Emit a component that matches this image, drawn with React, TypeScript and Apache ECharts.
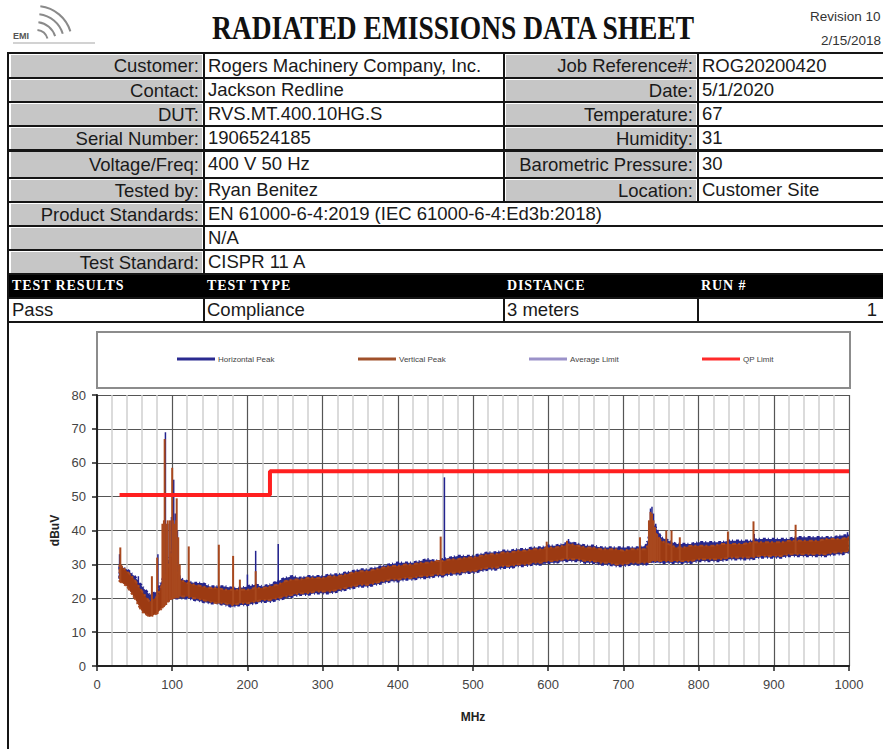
import React, { useEffect, useRef } from "react";
import * as echarts from "echarts";

// ---------- chart data ----------
const BAND_FREQ = [
  30, 40, 50, 60, 70, 80, 90, 100, 110, 120, 130, 140, 150, 160, 170, 180, 190, 200, 210, 220,
  230, 240, 250, 260, 270, 280, 290, 300, 310, 320, 330, 340, 350, 360, 370, 380, 390, 400, 410, 420,
  430, 440, 450, 460, 470, 480, 490, 500, 510, 520, 530, 540, 550, 560, 570, 580, 590, 600, 610, 620,
  630, 640, 650, 660, 670, 680, 690, 700, 710, 720, 730, 740, 750, 760, 770, 780, 790, 800, 810, 820,
  830, 840, 850, 860, 870, 880, 890, 900, 910, 920, 930, 940, 950, 960, 970, 980, 990, 1000,
];
// Vertical peak (brown) band: lower / upper envelope, dBuV
const V_LO = [
  25, 23.5, 20, 16, 14.5, 15.5, 18, 20, 20.5, 20.5, 20, 19.5, 19, 18.5, 18.5, 18, 18.5, 18.5, 19, 19.5,
  19.5, 20, 20.5, 21, 21.5, 21.5, 22, 22, 22, 22.5, 23, 23.5, 24, 24, 24.5, 25, 25.5, 25.5, 26, 26,
  26.5, 26.5, 27, 27, 27.5, 27.5, 28, 28, 28.5, 29, 29, 29.5, 29.5, 30, 30, 30.5, 30.5, 31, 31, 31.5,
  31.5, 31.5, 31, 31, 30.5, 30.5, 30, 30, 30.5, 30.5, 30.5, 31, 31, 31, 31, 31, 31, 31.5, 31.5, 31.5,
  31.5, 32, 32, 32, 32, 32.5, 32.5, 32.5, 32.5, 33, 33, 33, 33, 33, 33, 33.5, 33.5, 34,
];
const V_HI = [
  30, 28, 25.5, 22, 19, 20.5, 26, 34, 25.5, 24.5, 24, 23.5, 23, 23, 22.5, 22.5, 22.5, 22.5, 23, 23,
  23.5, 24, 25, 25.5, 25.5, 26, 26, 26, 26.5, 26.5, 27, 27.5, 28, 28, 28.5, 29, 29.5, 29.5, 30, 30,
  30.5, 30.5, 31, 31, 31.5, 31.5, 32, 32, 32.5, 33, 33, 33.5, 33.5, 34, 34, 34.5, 34.5, 35, 35, 35.5,
  36, 35.5, 35, 35, 34.5, 34.5, 34.5, 34, 34.5, 34.5, 34.5, 40, 37, 36, 35, 35, 35.5, 35.5, 35.5, 35.5,
  36, 36, 36, 36, 36.5, 36.5, 36.5, 36.5, 36.5, 37, 37, 37, 37, 37, 37.5, 37.5, 37.5, 38,
];
// Horizontal peak (blue) band: lower / upper envelope, dBuV
const H_LO = [
  26, 24, 21, 18.5, 17.5, 18.5, 19, 20, 20, 20, 19.5, 19, 18.5, 18.5, 18, 17.5, 18, 18, 18.5, 19,
  19, 19.5, 20, 20.5, 21, 21, 21.5, 21.5, 21.5, 22, 22.5, 23, 23.5, 23.5, 24, 24.5, 25, 25, 25.5, 25.5,
  26, 26, 26.5, 26.5, 27, 27, 27.5, 27.5, 28, 28.5, 28.5, 29, 29, 29.5, 29.5, 30, 30, 30.5, 30.5, 31,
  31, 31, 30.5, 30.5, 30, 30, 29.5, 29.5, 30, 30, 30, 31, 30.5, 30.5, 30.5, 30.5, 30.5, 31, 31, 31,
  31, 31.5, 31.5, 31.5, 31.5, 32, 32, 32, 32, 32.5, 32.5, 32.5, 32.5, 32.5, 32.5, 33, 33, 33.5,
];
const H_HI = [
  29.5, 28.5, 26.5, 23.5, 21, 22, 27, 35, 26, 25, 24.5, 24.5, 23.5, 23.5, 23.5, 23, 23, 23.5, 24, 23.5,
  24, 25, 26, 26.5, 26, 26.5, 26.5, 26.5, 27, 27, 27.5, 28, 28.5, 28.5, 29, 29.5, 30, 30.5, 30.5, 30.5,
  31, 31.5, 31, 31.5, 32, 32.5, 32.5, 32.5, 33, 33.5, 33.5, 34, 34, 34.5, 34.5, 35, 35, 35.5, 35.5, 36,
  36.5, 36, 35.5, 35.5, 35, 35, 35, 35, 35, 35, 35.5, 42, 38, 37, 36, 36, 36, 36.5, 36.5, 36.5,
  36.5, 37, 37, 37, 37, 37.5, 37.5, 37.5, 37.5, 37.5, 38, 38, 38, 38, 38, 38, 38.5, 38.5,
];
// narrow emissions: [MHz, base dBuV, peak dBuV]
const H_SPIKES = [
  [30, 26, 33], [55, 21, 26.5], [81, 19, 33], [88, 19, 40], [91, 19, 69], [93, 20, 41],
  [96, 20, 42], [99, 20, 44], [102, 20, 55], [104, 20, 45], [107, 20, 40], [200, 18, 27],
  [211, 18.5, 34], [241, 19.5, 36], [462, 26.5, 55.7], [627, 31, 37.5], [633, 31, 36.5],
  [734, 30.5, 42], [736, 30.5, 46.5], [738, 30.5, 47], [740, 30.5, 45], [743, 30.5, 42],
  [746, 30.5, 40], [749, 30.5, 38.5], [874, 31.5, 39], [998, 33.5, 39.5],
];
const V_SPIKES = [
  [31, 25, 35], [73, 15, 26.5], [80, 15.5, 32], [87, 17, 42], [89, 17.5, 43], [90, 18, 67],
  [92, 18, 42], [94, 19, 43], [97, 19.5, 43], [100, 20, 58.5], [101, 20, 43], [103, 20, 42],
  [105, 20, 43], [106, 20, 49.5], [108, 20, 38], [110, 20.5, 30], [122, 20.5, 35.3],
  [162, 18.5, 35.8], [181, 18, 32.5], [190, 18.5, 25.5], [211, 19, 28], [457, 27, 38.2],
  [598, 31, 36.7], [625, 31.5, 37], [722, 30.5, 38], [734, 31, 43], [736, 31, 45.5],
  [738, 31, 45], [740, 31, 43], [742, 31, 41], [745, 31, 39], [748, 31, 37.5], [757, 31, 40],
  [764, 31, 40], [775, 31, 38], [839, 32, 39.7], [873, 32, 42.7], [929, 33, 41.7],
];
const QP_LIMIT = [[30, 50.5], [230, 50.5], [230, 57.5], [1000, 57.5]];
const AVG_LIMIT: number[][] = [];
const SERIES_NAMES = ["Horizontal Peak", "Vertical Peak", "Average Limit", "QP Limit"];

// ---------- sheet text ----------
const INFO_ROWS = [
  ["Customer:", "Rogers Machinery Company, Inc.", "Job Reference#:", "ROG20200420"],
  ["Contact:", "Jackson Redline", "Date:", "5/1/2020"],
  ["DUT:", "RVS.MT.400.10HG.S", "Temperature:", "67"],
  ["Serial Number:", "1906524185", "Humidity:", "31"],
  ["Voltage/Freq:", "400 V 50 Hz", "Barometric Pressure:", "30"],
  ["Tested by:", "Ryan Benitez", "Location:", "Customer Site"],
];
const WIDE_ROWS = [
  ["Product Standards:", "EN 61000-6-4:2019 (IEC 61000-6-4:Ed3b:2018)"],
  ["", "N/A"],
  ["Test Standard:", "CISPR 11 A"],
];
const RESULT_HEAD = ["TEST RESULTS", "TEST TYPE", "DISTANCE", "RUN #"];
const RESULT_ROW = ["Pass", "Compliance", "3 meters", "1"];

const ROW_Y = [52, 77, 101, 125, 149, 177, 201, 225, 249, 273, 297, 321];
const COL_X = [8, 203, 503, 697, 890];

const BLUE = "#23238f";
const BROWN = "#9c3a12";
const SANS = "'Liberation Sans', Arial, sans-serif";
const SERIF = "'Liberation Serif', 'Times New Roman', serif";

function bandSeries(name: string, lo: number[], hi: number[], fill: string, stroke: string, dash: number[] | null, width: number) {
  return {
    type: "custom",
    name,
    silent: true,
    clip: true,
    data: [[BAND_FREQ[0], lo[0]]],
    encode: { x: 0, y: 1 },
    renderItem: (_p: any, api: any) => {
      const pts: number[][] = [];
      for (let i = 0; i < BAND_FREQ.length; i++) pts.push(api.coord([BAND_FREQ[i], hi[i]]));
      for (let i = BAND_FREQ.length - 1; i >= 0; i--) pts.push(api.coord([BAND_FREQ[i], lo[i]]));
      return {
        type: "polygon",
        shape: { points: pts },
        style: { fill, stroke, lineWidth: width, lineDash: dash || undefined },
      };
    },
  };
}

function spikeSeries(name: string, spikes: number[][], color: string, width: number) {
  return {
    type: "custom",
    name,
    silent: true,
    data: spikes,
    encode: { x: 0, y: [1, 2] },
    renderItem: (_p: any, api: any) => {
      const a = api.coord([api.value(0), api.value(1)]);
      const b = api.coord([api.value(0), api.value(2)]);
      return {
        type: "line",
        shape: { x1: a[0], y1: a[1], x2: b[0], y2: b[1] },
        style: { stroke: color, lineWidth: width },
      };
    },
  };
}

function Chart() {
  const ref = useRef<HTMLDivElement>(null);
  useEffect(() => {
    if (!ref.current) return;
    const chart = echarts.init(ref.current, undefined, { renderer: "svg" });
    const legendColors = ["#2a2a90", "#a0502a", "#9b92c9", "#ff2a2a"];
    const legendX = [177, 358, 529, 702];
    chart.setOption({
      animation: false,
      backgroundColor: "transparent",
      textStyle: { fontFamily: SANS },
      graphic: [
        {
          type: "rect",
          z: 0,
          shape: { x: 97, y: 332, width: 753, height: 56 },
          style: { fill: "#fff", stroke: "#8c8c8c", lineWidth: 2 },
        },
      ],
      legend: SERIES_NAMES.map((n, i) => ({
        data: [{ name: n, icon: "rect", itemStyle: { color: legendColors[i] } }],
        left: legendX[i],
        top: 355,
        padding: 0,
        itemWidth: 38,
        itemHeight: 3,
        selectedMode: false,
        z: 5,
        textStyle: { fontSize: 8, color: "#444", fontFamily: SANS, padding: [0, 0, 0, -2] },
      })),
      grid: { left: 97, right: 34, top: 395, bottom: 83, containLabel: false },
      xAxis: {
        type: "value",
        min: 0,
        max: 1000,
        interval: 100,
        name: "MHz",
        nameLocation: "middle",
        nameGap: 45,
        nameTextStyle: { fontWeight: "bold", fontSize: 12, color: "#222" },
        axisLine: { show: true, lineStyle: { color: "#222", width: 2 } },
        axisTick: { show: true, length: 5, lineStyle: { color: "#222", width: 1.5 } },
        axisLabel: { fontSize: 13, color: "#444", margin: 12, formatter: (v: number) => String(v) },
        splitLine: { show: true, lineStyle: { color: "#555", width: 1.2 } },
        minorTick: { show: false, splitNumber: 5 },
        minorSplitLine: { show: true, lineStyle: { color: "#cfcfcf", width: 1.5 } },
      },
      yAxis: {
        type: "value",
        min: 0,
        max: 80,
        interval: 10,
        name: "dBuV",
        nameLocation: "middle",
        nameRotate: 90,
        nameGap: 36,
        nameTextStyle: { fontWeight: "bold", fontSize: 12, color: "#222" },
        axisLine: { show: true, lineStyle: { color: "#222", width: 2 } },
        axisTick: { show: true, length: 5, lineStyle: { color: "#222", width: 1.5 } },
        axisLabel: { fontSize: 13, color: "#444", margin: 11 },
        splitLine: { show: true, lineStyle: { color: "#555", width: 1.2 } },
      },
      series: [
        bandSeries(SERIES_NAMES[0], H_LO, H_HI, "#2b2b8a", BLUE, [3, 2, 1, 3], 2.5),
        spikeSeries(SERIES_NAMES[0], H_SPIKES, BLUE, 1.5),
        bandSeries(SERIES_NAMES[1], V_LO, V_HI, BROWN, "#a8481e", [4, 2, 2, 3], 2),
        spikeSeries(SERIES_NAMES[1], V_SPIKES, "#a8481e", 2),
        {
          type: "line",
          name: SERIES_NAMES[2],
          data: AVG_LIMIT,
          showSymbol: false,
          lineStyle: { color: "#9b92c9", width: 2 },
          itemStyle: { color: "#9b92c9" },
        },
        {
          type: "line",
          name: SERIES_NAMES[3],
          data: QP_LIMIT,
          showSymbol: false,
          silent: true,
          z: 10,
          lineStyle: { color: "#ff1f1f", width: 4 },
          itemStyle: { color: "#ff1f1f" },
        },
      ],
    });
    return () => chart.dispose();
  }, []);
  return (
    <div
      ref={ref}
      style={{ position: "absolute", left: 0, top: 0, width: 883, height: 749 }}
    />
  );
}

function Cell(props: {
  x: number; y: number; w: number; h: number; text: string;
  align?: "left" | "right"; bg?: string; style?: React.CSSProperties;
}) {
  const { x, y, w, h, text, align = "left", bg, style } = props;
  return (
    <div
      style={{
        position: "absolute", left: x, top: y, width: w, height: h,
        background: bg, display: "flex", alignItems: "center",
        justifyContent: align === "right" ? "flex-end" : "flex-start",
        padding: "0 3px", boxSizing: "border-box", whiteSpace: "nowrap",
        overflow: "hidden", fontFamily: SANS, fontSize: 18.5, color: "#1a1a1a",
        ...style,
      }}
    >
      {text}
    </div>
  );
}

function Line(props: { x: number; y: number; w: number; h: number }) {
  return (
    <div style={{ position: "absolute", left: props.x, top: props.y, width: props.w, height: props.h, background: "#151515" }} />
  );
}

function Sheet() {
  const cells: React.ReactNode[] = [];
  const GRAY = "#c6c6c6";
  INFO_ROWS.forEach((r, i) => {
    const y = ROW_Y[i] + 2;
    const h = ROW_Y[i + 1] - ROW_Y[i] - 2;
    cells.push(<Cell key={`a${i}`} x={COL_X[0] + 3} y={y + 1} w={COL_X[1] - COL_X[0] - 4} h={h - 1} text={r[0]} align="right" bg={GRAY} />);
    cells.push(<Cell key={`b${i}`} x={COL_X[1] + 2} y={y} w={COL_X[2] - COL_X[1] - 2} h={h} text={r[1]} />);
    cells.push(<Cell key={`c${i}`} x={COL_X[2] + 3} y={y + 1} w={COL_X[3] - COL_X[2] - 4} h={h - 1} text={r[2]} align="right" bg={GRAY} />);
    cells.push(<Cell key={`d${i}`} x={COL_X[3] + 2} y={y} w={COL_X[4] - COL_X[3]} h={h} text={r[3]} />);
  });
  WIDE_ROWS.forEach((r, j) => {
    const i = j + 6;
    const y = ROW_Y[i] + 2;
    const h = ROW_Y[i + 1] - ROW_Y[i] - 2;
    cells.push(<Cell key={`e${i}`} x={COL_X[0] + 3} y={y + 1} w={COL_X[1] - COL_X[0] - 4} h={h - 1} text={r[0]} align="right" bg={GRAY} />);
    cells.push(<Cell key={`f${i}`} x={COL_X[1] + 2} y={y} w={COL_X[4] - COL_X[1]} h={h} text={r[1]} />);
  });
  RESULT_HEAD.forEach((t, k) => {
    cells.push(
      <Cell key={`g${k}`} x={COL_X[k] + 1} y={ROW_Y[9] + 2} w={COL_X[k + 1] - COL_X[k] - 1} h={ROW_Y[10] - ROW_Y[9] - 2} text={t}
        style={{ fontFamily: SERIF, fontWeight: "bold", fontSize: 14, letterSpacing: 0.9, color: "#fff" }} />
    );
  });
  RESULT_ROW.forEach((t, k) => {
    cells.push(
      <Cell key={`h${k}`} x={COL_X[k] + 1} y={ROW_Y[10] + 2} w={k === 3 ? 182 : COL_X[k + 1] - COL_X[k] - 1} h={ROW_Y[11] - ROW_Y[10] - 2} text={t}
        align={k === 3 ? "right" : "left"} />
    );
  });
  const lines: React.ReactNode[] = [];
  ROW_Y.forEach((y, i) => lines.push(<Line key={`hl${i}`} x={8} y={y} w={880} h={i === 4 ? 3 : 2} />));
  lines.push(<Line key="v0" x={7} y={52} w={2} h={697} />);
  lines.push(<Line key="v1" x={COL_X[1]} y={52} w={2} h={221} />);
  lines.push(<Line key="v1b" x={COL_X[1]} y={297} w={2} h={25} />);
  lines.push(<Line key="v2" x={COL_X[2]} y={52} w={2} h={149} />);
  lines.push(<Line key="v2b" x={COL_X[2]} y={297} w={2} h={25} />);
  lines.push(<Line key="v3" x={COL_X[3]} y={52} w={2} h={149} />);
  lines.push(<Line key="v3b" x={COL_X[3]} y={297} w={2} h={25} />);
  const arc = (r: number) => {
    const cx = 36, cy = 42, a0 = -1.45, a1 = -0.3;
    return `M ${cx + r * Math.cos(a0)} ${cy + r * Math.sin(a0)} A ${r} ${r} 0 0 1 ${cx + r * Math.cos(a1)} ${cy + r * Math.sin(a1)}`;
  };
  return (
    <div style={{ position: "absolute", left: 0, top: 0, width: 883, height: 749, pointerEvents: "none" }}>
      {/* logo */}
      <svg style={{ position: "absolute", left: 0, top: 0 }} width={110} height={50}>
        {[12, 20, 28, 36].map((r, i) => (
          <path key={i} d={arc(r)} fill="none" stroke="#8a8a8a" strokeWidth={2} />
        ))}
        <text x={13} y={39} fontFamily={SANS} fontWeight="bold" fontSize={9} fill="#555">EMI</text>
        <rect x={13} y={42} width={82} height={2} fill="#d2d2d2" />
      </svg>
      <div style={{ position: "absolute", left: 212, top: 11, fontFamily: SERIF, fontWeight: "bold", fontSize: 27.5, color: "#111", whiteSpace: "nowrap", transform: "scaleY(1.2)", transformOrigin: "left top", lineHeight: "27px" }}>
        RADIATED EMISSIONS DATA SHEET
      </div>
      <div style={{ position: "absolute", left: 810, top: 9, fontFamily: SANS, fontSize: 13.5, color: "#333", whiteSpace: "nowrap" }}>Revision 10</div>
      <div style={{ position: "absolute", left: 821, top: 33, fontFamily: SANS, fontSize: 13.5, color: "#333", whiteSpace: "nowrap" }}>2/15/2018</div>
      <div style={{ position: "absolute", left: 8, top: ROW_Y[9], width: 880, height: ROW_Y[10] - ROW_Y[9], background: "#000" }} />
      {cells}
      {lines}
    </div>
  );
}

export default function App() {
  return (
    <div style={{ position: "fixed", left: 0, top: 0, width: 883, height: 749, overflow: "hidden", background: "#fff" }}>
      <Chart />
      <Sheet />
    </div>
  );
}
